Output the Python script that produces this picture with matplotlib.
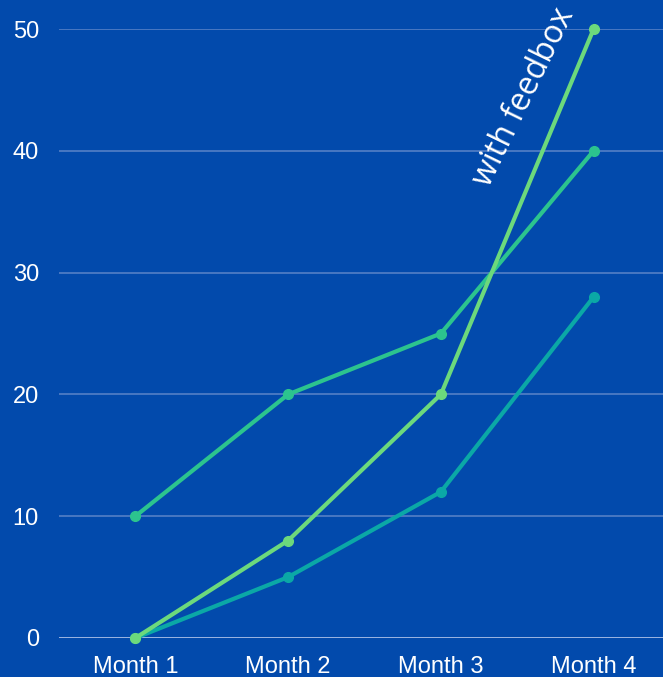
import matplotlib.pyplot as plt

months = ["Month 1", "Month 2", "Month 3", "Month 4"]
series_a = [10, 20, 25, 40]
series_b = [0, 8, 20, 50]
series_c = [0, 5, 12, 28]
y_ticks = [0, 10, 20, 30, 40, 50]

bg = "#024AAC"
fig = plt.figure(figsize=(6.63, 6.77), dpi=100, facecolor=bg)
ax = fig.add_axes([59 / 663, 39 / 677, 611 / 663, 609 / 677])
ax.set_facecolor(bg)

x = range(len(months))
ax.plot(x, series_c, color="#0BA8A6", lw=3, marker="o", ms=7, clip_on=False, zorder=3)
ax.plot(x, series_a, color="#2CC48E", lw=3, marker="o", ms=7, clip_on=False, zorder=4)
ax.plot(x, series_b, color="#6CD97C", lw=3, marker="o", ms=7, clip_on=False, zorder=5)

ax.set_xlim(-0.5, 3.5)
ax.set_ylim(0, 50)
ax.set_xticks(list(x))
ax.set_xticklabels(months)
ax.set_yticks(y_ticks)
for t in y_ticks:
    ax.axhline(t, color="#A9BEE6" if t == 0 else "#4E7BC4", lw=1.3, zorder=1)

for s in ax.spines.values():
    s.set_visible(False)
ax.tick_params(length=0, colors="white", labelsize=17)
ax.tick_params(axis="y", pad=14.5)
ax.tick_params(axis="x", pad=13)
for lab in ax.get_xticklabels() + ax.get_yticklabels():
    lab.set_family("Liberation Sans")

ax.text(2.54, 44.4, "with feedbox", color="white", fontsize=23, family="Open Sans",
        rotation=64, ha="center", va="center", zorder=6)

fig.savefig("out.png", dpi=100, facecolor=bg)
